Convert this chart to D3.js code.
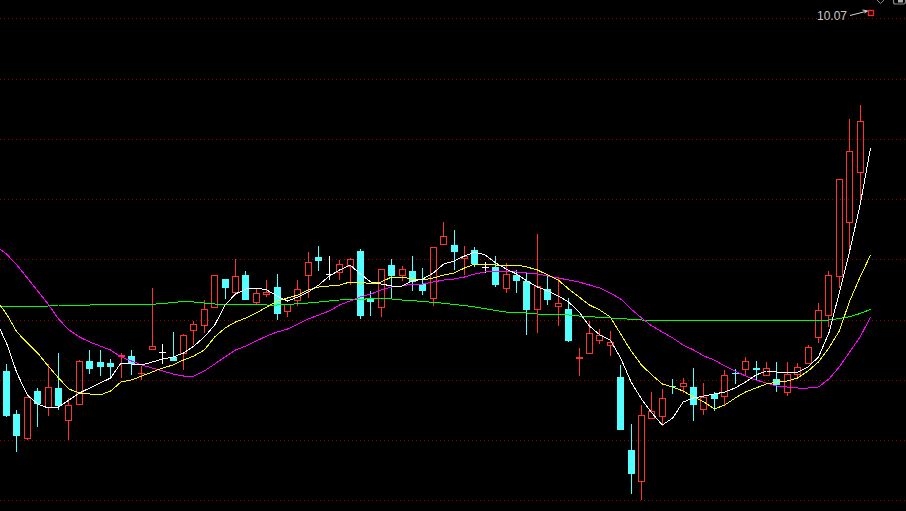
<!DOCTYPE html>
<html><head><meta charset="utf-8">
<script src="https://cdn.jsdelivr.net/npm/d3@7"></script>
<style>html,body{margin:0;padding:0;background:#000;overflow:hidden}svg{display:block}</style>
</head><body>
<svg id="c" width="906" height="511"></svg>
<script>
// ---- candle data (83 sessions) ----
const opens = [7.41,6.98,6.73,7.21,7.035,7.24,6.905,7.073,7.51,7.50,
 7.49,7.553,7.56,7.375,7.615,7.60,7.55,7.58,7.813,7.855,
 8.035,8.327,8.193,8.37,8.085,8.17,8.25,7.995,8.107,8.363,
 8.55,8.38,8.387,8.447,8.61,8.135,8.037,8.47,8.363,8.41,
 8.28,8.127,8.667,8.67,8.53,8.62,8.45,8.453,8.227,8.37,
 8.31,8.02,8.23,8.053,8.03,7.533,7.583,7.713,7.663,7.35,
 6.62,6.303,6.933,6.953,7.262,7.253,7.25,7.023,7.175,7.147,
 7.387,7.423,7.44,7.363,7.33,7.187,7.373,7.477,7.737,7.957,
 8.35,8.887,9.387];
const highs = [7.48,7.02,7.15,7.24,7.48,7.59,7.14,7.52,7.62,7.62,
 7.53,7.59,7.62,7.46,8.24,7.68,7.80,7.78,7.91,8.12,
 8.37,8.327,8.527,8.41,8.24,8.32,8.38,8.077,8.32,8.60,
 8.66,8.56,8.52,8.543,8.63,8.21,8.427,8.527,8.46,8.56,
 8.437,8.647,8.90,8.82,8.66,8.65,8.503,8.56,8.487,8.42,
 8.387,8.78,8.37,8.35,8.14,7.64,7.91,7.83,7.81,7.47,
 6.88,7.07,7.20,7.23,7.33,7.34,7.44,7.29,7.20,7.42,
 7.427,7.55,7.51,7.50,7.50,7.50,7.49,7.67,8.087,8.41,
 9.327,9.93,10.07];
const lows = [6.95,6.60,6.725,6.85,6.96,7.02,6.725,7.073,7.38,7.36,
 7.33,7.34,7.37,7.32,7.615,7.48,7.51,7.42,7.67,7.793,
 8.035,8.13,8.193,8.12,8.083,8.153,7.92,7.953,8.06,8.143,
 8.41,8.32,8.32,8.27,7.927,7.963,7.953,8.127,8.31,8.21,
 8.17,8.063,8.667,8.42,8.37,8.447,8.387,8.247,8.187,8.19,
 7.77,7.793,8.075,7.86,7.703,7.36,7.583,7.68,7.56,6.82,
 6.18,6.12,6.933,6.86,7.183,7.187,6.913,6.97,7.015,7.073,
 7.277,7.36,7.32,7.363,7.197,7.163,7.33,7.477,7.687,7.853,
 8.237,8.62,9.12];
const closes = [6.96,6.76,7.15,7.08,7.25,7.06,7.07,7.51,7.43,7.453,
 7.45,7.57,7.475,7.39,7.657,7.60,7.51,7.77,7.877,8.027,
 8.367,8.243,8.357,8.12,8.187,8.20,7.983,8.077,8.228,8.497,
 8.513,8.38,8.48,8.53,7.963,8.095,8.427,8.363,8.427,8.297,
 8.213,8.647,8.757,8.603,8.563,8.48,8.45,8.27,8.38,8.31,
 8.02,8.26,8.12,8.09,7.71,7.55,7.79,7.767,7.70,6.82,
 6.38,6.97,7.01,7.14,7.255,7.29,7.073,7.15,7.133,7.37,
 7.38,7.507,7.42,7.44,7.27,7.38,7.45,7.65,8.017,8.373,
 9.327,9.607,9.907];

// ---- moving averages; first value sits one slot left of session 0 ----
const maStart = -1;
const ma5 = [7.91,7.69,7.39,7.17,7.08,7.04,7.05,7.12,7.19,7.24,
 7.29,7.34,7.49,7.48,7.47,7.50,7.53,7.55,7.59,7.66,
 7.75,7.87,8.07,8.18,8.23,8.24,8.22,8.16,8.11,8.15,
 8.20,8.27,8.36,8.42,8.47,8.38,8.30,8.28,8.26,8.26,
 8.31,8.33,8.39,8.48,8.51,8.56,8.60,8.57,8.49,8.43,
 8.38,8.31,8.25,8.21,8.16,8.10,8.00,7.86,7.77,7.72,
 7.54,7.30,7.13,6.99,6.87,6.94,7.10,7.14,7.16,7.18,
 7.20,7.24,7.30,7.37,7.41,7.40,7.40,7.40,7.45,7.55,
 7.79,8.19,8.61,9.07,9.64];
const ma10 = [8.12,7.98,7.80,7.69,7.59,7.46,7.34,7.23,7.19,7.18,
 7.17,7.21,7.30,7.32,7.36,7.40,7.44,7.47,7.52,7.56,
 7.62,7.75,7.84,7.90,7.94,7.99,8.05,8.11,8.14,8.17,
 8.22,8.25,8.26,8.27,8.30,8.30,8.28,8.30,8.35,8.35,
 8.33,8.32,8.34,8.37,8.39,8.44,8.48,8.48,8.47,8.47,
 8.47,8.45,8.42,8.37,8.32,8.23,8.15,8.07,8.02,7.95,
 7.78,7.61,7.47,7.37,7.28,7.25,7.21,7.15,7.10,7.03,
 7.07,7.14,7.20,7.24,7.28,7.30,7.31,7.34,7.41,7.50,
 7.64,7.81,8.11,8.35,8.57];
const ma20 = [8.66,8.58,8.47,8.34,8.21,8.08,7.93,7.82,7.75,7.70,
 7.66,7.62,7.55,7.51,7.47,7.44,7.41,7.38,7.36,7.36,
 7.41,7.48,7.55,7.62,7.66,7.71,7.76,7.80,7.83,7.88,
 7.93,7.97,8.01,8.07,8.11,8.15,8.18,8.22,8.25,8.26,
 8.28,8.28,8.30,8.32,8.33,8.35,8.38,8.40,8.41,8.41,
 8.40,8.39,8.38,8.36,8.34,8.32,8.30,8.27,8.24,8.19,
 8.13,8.03,7.94,7.86,7.80,7.74,7.67,7.62,7.56,7.52,
 7.46,7.41,7.36,7.32,7.29,7.26,7.25,7.24,7.24,7.25,
 7.33,7.45,7.60,7.75,7.95];
const ma60 = [8.06,8.06,8.06,8.06,8.06,8.06,8.07,8.07,8.07,8.07,
 8.077,8.077,8.077,8.077,8.077,8.077,8.085,8.095,8.105,8.10,
 8.09,8.08,8.077,8.077,8.077,8.075,8.07,8.07,8.077,8.082,
 8.09,8.10,8.11,8.12,8.125,8.127,8.133,8.137,8.13,8.12,
 8.113,8.105,8.097,8.087,8.075,8.065,8.05,8.033,8.015,8.00,
 7.995,7.99,7.98,7.975,7.973,7.97,7.96,7.955,7.945,7.94,
 7.935,7.927,7.92,7.915,7.915,7.915,7.915,7.915,7.915,7.915,
 7.915,7.915,7.915,7.915,7.915,7.915,7.915,7.915,7.915,7.915,
 7.92,7.935,7.953,7.985,8.025];

// horizontal grid levels (price)
const gridLevels = [10.94,10.33,9.73,9.13,8.53,7.92,7.32,6.72,6.12];

const W = 906, H = 511;
const RED = '#ff3232', CYAN = '#54ffff', WHITE = '#ffffff';
const svg = d3.select('#c');
svg.append('rect').attr('width', W).attr('height', H).attr('fill', '#000');

const x = d3.scaleLinear().domain([0, 82]).range([6.5, 860.1]);
const y = d3.scaleLinear().domain([6.01, 11.12]).range([H, 0]);

// grid
const gAxis = d3.axisRight(y).tickValues(gridLevels).tickSize(W).tickFormat('');
const gg = svg.append('g').call(gAxis);
gg.select('.domain').remove();
gg.selectAll('.tick line').attr('stroke', '#9a0000').attr('stroke-dasharray', '1,3')
  .attr('shape-rendering', 'crispEdges');

// candles
const cg = svg.append('g').attr('shape-rendering', 'crispEdges');
d3.range(opens.length).forEach(i => {
  const o = opens[i], c = closes[i];
  const left = Math.round(x(i) - 3.5), wx = left + 3.5;
  const yh = Math.round(y(highs[i])), yl = Math.round(y(lows[i]));
  const yt = Math.round(y(Math.max(o, c))), yb = Math.round(y(Math.min(o, c)));
  if (c > o) {
    if (yb - yt >= 3) {
      if (yh < yt) cg.append('line').attr('x1', wx).attr('x2', wx).attr('y1', yh).attr('y2', yt).attr('stroke', RED);
      if (yl > yb) cg.append('line').attr('x1', wx).attr('x2', wx).attr('y1', yb).attr('y2', yl).attr('stroke', RED);
      cg.append('rect').attr('x', left + 0.5).attr('y', yt + 0.5).attr('width', 6).attr('height', yb - yt - 1)
        .attr('fill', 'none').attr('stroke', RED);
    } else {
      cg.append('line').attr('x1', wx).attr('x2', wx).attr('y1', yh).attr('y2', yl).attr('stroke', RED);
      cg.append('rect').attr('x', left).attr('y', yt).attr('width', 7).attr('height', Math.max(1, yb - yt)).attr('fill', RED);
    }
  } else {
    const col = c < o ? CYAN : WHITE;
    cg.append('line').attr('x1', wx).attr('x2', wx).attr('y1', yh).attr('y2', yl).attr('stroke', col);
    cg.append('rect').attr('x', left).attr('y', yt).attr('width', 7).attr('height', Math.max(1, yb - yt)).attr('fill', col);
  }
});

// moving-average lines
svg.append('clipPath').attr('id', 'clip').append('rect').attr('x', 0).attr('y', 0).attr('width', W).attr('height', H);
const line = d3.line().x((d, k) => x(k + maStart)).y(d => y(d));
const lg = svg.append('g').attr('clip-path', 'url(#clip)');
[[ma60, '#00ff00'], [ma20, '#ff00ff'], [ma10, '#ffff00'], [ma5, '#ffffff']].forEach(([arr, col]) => {
  lg.append('path').attr('d', line(arr)).attr('fill', 'none').attr('stroke', col)
    .attr('stroke-width', 1).attr('shape-rendering', 'crispEdges');
});

// max price marker
const maxHigh = d3.max(highs);
const mx = x(opens.length);
svg.append('text').attr('x', 847).attr('y', 20).attr('text-anchor', 'end')
  .attr('font-family', '"Liberation Sans", Arial, sans-serif').attr('font-size', 12)
  .attr('fill', '#c8c8c8').text(d3.format('.2f')(maxHigh));
svg.append('path').attr('d', `M850,15.5 L${mx - 3},11 M${mx - 8},10 L${mx - 3},11 L${mx - 6},13`)
  .attr('fill', 'none').attr('stroke', '#d0d0d0').attr('stroke-width', 1);
svg.append('rect').attr('x', Math.round(mx) - 2.5).attr('y', 10.5).attr('width', 5).attr('height', 5)
  .attr('fill', 'none').attr('stroke', '#ff2020').attr('stroke-width', 1.3);

// tiny toolbar glyphs at the top right
svg.append('path').attr('d', 'M876.5,-0.5 L880.5,3.5 L884.5,-0.5').attr('fill', 'none').attr('stroke', '#8a8a8a');
svg.append('rect').attr('x', 893.5).attr('y', -6).attr('width', 12).attr('height', 10).attr('rx', 2)
  .attr('fill', 'none').attr('stroke', '#8a8a8a').attr('stroke-width', 1.2);
svg.append('rect').attr('x', 898).attr('y', 0).attr('width', 5).attr('height', 2.5).attr('fill', '#b0b0b0');
</script>
</body></html>
